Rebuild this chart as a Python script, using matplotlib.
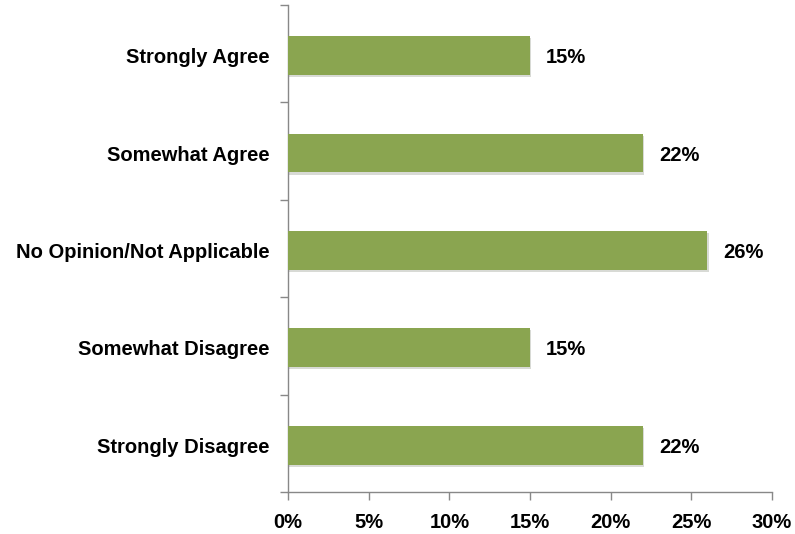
import matplotlib.pyplot as plt
import matplotlib.patheffects as pe
import numpy as np

# ---------------------------
# Data
# ---------------------------
categories = ["Strongly Agree", "Somewhat Agree", "No Opinion/Not Applicable",
              "Somewhat Disagree", "Strongly Disagree"]
values = [15, 22, 26, 15, 22]
xticks = [0, 5, 10, 15, 20, 25, 30]

plt.rcParams["font.family"] = ["Liberation Sans", "DejaVu Sans"]

fig = plt.figure(figsize=(7.95, 5.34), dpi=100)
ax = fig.add_axes([0.3623, 0.0787, 0.6087, 0.912])

y = np.arange(len(categories))
bars = ax.barh(y + 0.02, values, height=0.4, color="#8aa550", zorder=3,
               path_effects=[pe.SimplePatchShadow(offset=(0.8, -1.5), alpha=0.18), pe.Normal()])

for yi, v in zip(y, values):
    ax.text(v + 1.0, yi + 0.02, f"{v}%", va="center_baseline", ha="left",
            fontsize=14.5, fontweight="bold", color="black")

ax.set_xlim(0, 30)
ax.set_ylim(len(categories) - 0.5, -0.5)
ax.set_xticks(xticks)
ax.set_xticklabels([f"{t}%" for t in xticks], fontsize=14.5, fontweight="bold")
ax.set_yticks(y + 0.02)
ax.set_yticklabels(categories, fontsize=14.5, fontweight="bold")
ax.set_yticks(np.arange(-0.5, len(categories), 1.0), minor=True)

ax.tick_params(axis="y", which="major", length=0, pad=13)
ax.tick_params(axis="y", which="minor", length=6, color="#888888", width=1)
ax.tick_params(axis="x", length=6, color="#888888", width=1, pad=9)

for s in ["top", "right"]:
    ax.spines[s].set_visible(False)
for s in ["left", "bottom"]:
    ax.spines[s].set_color("#888888")
    ax.spines[s].set_linewidth(1)

fig.savefig("out.png", dpi=100)
